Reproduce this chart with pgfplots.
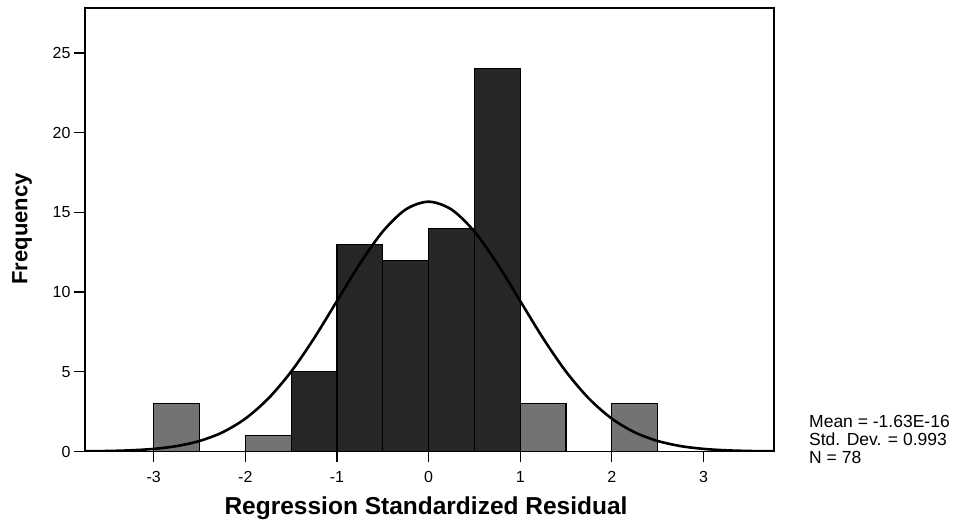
\documentclass[border=0pt]{standalone}
\usepackage{fontspec}
\setmainfont{Liberation Sans}
\usepackage{pgfplots}
\pgfplotsset{compat=1.18}
\newcommand\tlf{\fontsize{16}{18}\selectfont}
\begin{document}
\begin{tikzpicture}
\begin{axis}[
  scale only axis,
  width=689pt, height=443.5pt,
  xmin=-3.75, xmax=3.77,
  ymin=0, ymax=27.82,
  axis line style={line width=1.3pt},
  xtick={-3,-2,-1,0,1,2,3},
  xticklabels={\mbox{\tlf -3},\mbox{\tlf -2},\mbox{\tlf -1},\mbox{\tlf 0},\mbox{\tlf 1},\mbox{\tlf 2},\mbox{\tlf 3}},
  ytick={0,5,10,15,20,25},
  yticklabels={\mbox{\tlf 0},\mbox{\tlf 5},\mbox{\tlf 10},\mbox{\tlf 15},\mbox{\tlf 20},\mbox{\tlf 25}},
  xtick pos=left, ytick pos=left,
  tick align=outside,
  major tick length=11pt,
  tick style={black, line width=1.3pt},
  /pgf/number format/assume math mode=true,
  tick label style={font=\tlf},
  xticklabel style={yshift=-5pt},
  xlabel={Regression Standardized Residual},
  ylabel={Frequency},
  xlabel style={font=\fontsize{24.5}{27}\selectfont\bfseries, at={(axis description cs:0.495,-0.128)}, anchor=center},
  ylabel style={font=\fontsize{22}{24}\selectfont\bfseries, at={(axis description cs:-0.0914,0.502)}, anchor=center},
  clip=true,
]
% lighter speckled bars
\addplot[ybar interval, fill=black!55, draw=black, line width=1.2pt]
  coordinates {(-3,3) (-2.5,3)};
\addplot[ybar interval, fill=black!55, draw=black, line width=1.2pt]
  coordinates {(-2,1) (-1.5,1)};
\addplot[ybar interval, fill=black!55, draw=black, line width=1.2pt]
  coordinates {(1,3) (1.5,3)};
\addplot[ybar interval, fill=black!55, draw=black, line width=1.2pt]
  coordinates {(2,3) (2.5,3)};
% dark bars
\addplot[ybar interval, fill=black!85, draw=black, line width=1.2pt]
  coordinates {(-1.5,5) (-1,13) (-0.5,12) (0,14) (0.5,24) (1,24)};
% normal curve
\addplot[smooth, black, line width=2.6pt, no marks] coordinates {
  (-3.75,0.0125) (-3.5,0.031) (-3.25,0.074) (-3,0.163) (-2.75,0.34)
  (-2.5,0.66) (-2.25,1.20) (-2,2.06) (-1.75,3.32) (-1.5,5.01)
  (-1.25,7.10) (-1,9.44) (-0.75,11.78) (-0.5,13.80) (-0.25,15.18)
  (0,15.67) (0.25,15.18) (0.5,13.80) (0.75,11.78) (1,9.44)
  (1.25,7.10) (1.5,5.01) (1.75,3.32) (2,2.06) (2.25,1.20)
  (2.5,0.66) (2.75,0.34) (3,0.163) (3.25,0.074) (3.5,0.031) (3.77,0.012)
};
\end{axis}
\node[anchor=west, align=left, font=\fontsize{17.5}{18}\selectfont, inner sep=0pt]
  at ([shift={(35pt,12pt)}]current axis.south east) {Mean = -1.63E-16\\Std. Dev. = 0.993\\N = 78};
\path ([shift={(-85pt,-74.5pt)}]current axis.south west) rectangle ([shift={(183pt,8pt)}]current axis.north east);
\end{tikzpicture}
\end{document}
